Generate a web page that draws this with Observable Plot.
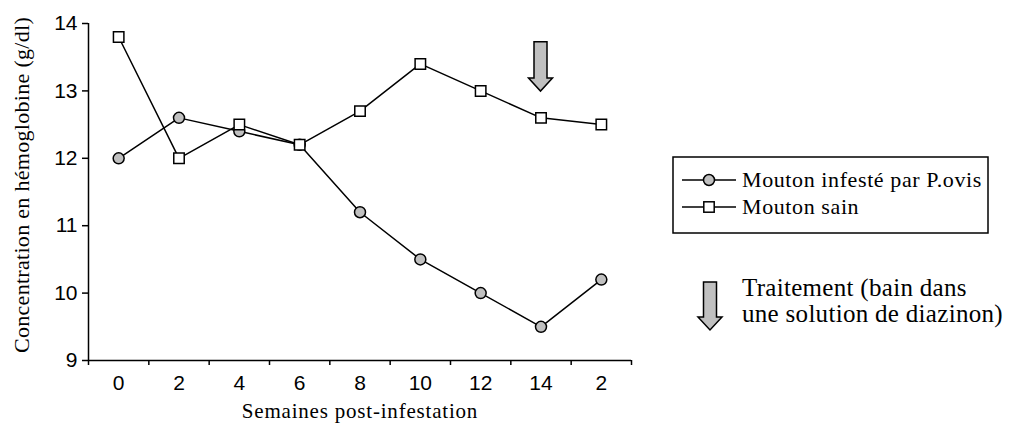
<!DOCTYPE html>
<html><head><meta charset="utf-8">
<script src="https://cdn.jsdelivr.net/npm/d3@7"></script>
<script src="https://cdn.jsdelivr.net/npm/@observablehq/plot@0.6"></script>
<style>
body{margin:0;background:#fff}
#chart{width:1015px;height:423px;position:relative}
.serif{font-family:"Liberation Serif","Times New Roman",serif;fill:#000}
</style>
</head><body><div id="chart"></div>
<script>
// ---- data ----
const weekLabels = ["0","2","4","6","8","10","12","14","2"];
const infested = [12.0,12.6,12.4,12.2,11.2,10.5,10.0,9.5,10.2];
const healthy  = [13.8,12.0,12.5,12.2,12.7,13.4,13.0,12.6,12.5];
const seriesNames = ["Mouton infesté par P.ovis","Mouton sain"];
const yTicks = [9,10,11,12,13,14];
const treatmentIndex = 7;
const treatmentRange = [13.72, 12.99];
const treatmentNote = ["Traitement (bain dans","une solution de diazinon)"];
const xTitle = "Semaines post-infestation";
const yTitle = "Concentration en hémoglobine (g/dl)";

const rows = [];
weekLabels.forEach((w,i)=>{
  rows.push({i, s: seriesNames[0], v: infested[i]});
  rows.push({i, s: seriesNames[1], v: healthy[i]});
});
const boundaries = d3.range(weekLabels.length + 1).map(k => k - 0.5);
const GREY = "#c0c0c0";

const plot = Plot.plot({
  width: 1015, height: 423,
  marginLeft: 88, marginRight: 384, marginTop: 23, marginBottom: 63,
  style: {fontFamily: "'Liberation Sans', Arial, sans-serif", fontSize: "21px", color: "#000", background: "#fff"},
  x: {domain: [-0.5, weekLabels.length - 0.5], axis: null},
  y: {domain: [9, 14], axis: null},
  marks: [
    Plot.ruleY([9], {stroke: "black", strokeWidth: 1.5}),
    Plot.ruleX([-0.5], {y1: 9, y2: 14, stroke: "black", strokeWidth: 1.5}),
    Plot.axisY(yTicks, {anchor: "left", tickSize: 6, tickPadding: 5, strokeWidth: 1.5, label: null, fontSize: 21, tickFormat: d => String(d)}),
    Plot.axisX(boundaries, {anchor: "bottom", tickSize: 5, strokeWidth: 1.5, tickFormat: () => "", label: null}),
    Plot.axisX(d3.range(weekLabels.length), {anchor: "bottom", tickSize: 0, tickPadding: 15, fontSize: 21, tickFormat: i => weekLabels[i], label: null}),
    Plot.line(rows, {x: "i", y: "v", z: "s", stroke: "black", strokeWidth: 1.5}),
    Plot.dot(rows.filter(d => d.s === seriesNames[0]), {x: "i", y: "v", r: 5.5, fill: GREY, stroke: "black", strokeWidth: 1.5}),
    Plot.dot(rows.filter(d => d.s === seriesNames[1]), {x: "i", y: "v", r: 5.9, symbol: "square", fill: "white", stroke: "black", strokeWidth: 1.5})
  ]
});
document.getElementById("chart").appendChild(plot);

const svg = d3.select(plot);
const xs = plot.scale("x"), ys = plot.scale("y");

function arrowPath(cx, yTop, yTip){
  const sw = 6.5, hw = 12, hh = 13;
  return `M${cx-sw},${yTop}H${cx+sw}V${yTip-hh}H${cx+hw}L${cx},${yTip}L${cx-hw},${yTip-hh}H${cx-sw}Z`;
}
// treatment arrow in the plot
svg.append("path")
  .attr("d", arrowPath(xs.apply(treatmentIndex), ys.apply(treatmentRange[0]), ys.apply(treatmentRange[1])))
  .attr("fill", GREY).attr("stroke", "black").attr("stroke-width", 1.5);

// axis titles
svg.append("text").attr("class", "serif")
  .attr("transform", "translate(29,185) rotate(-90)")
  .attr("text-anchor", "middle").style("font-size", "22px").style("letter-spacing", "0.3px")
  .text(yTitle);
svg.append("text").attr("class", "serif")
  .attr("x", 360).attr("y", 418)
  .attr("text-anchor", "middle").style("font-size", "21px").style("letter-spacing", "0.8px")
  .text(xTitle);

// legend
const lg = svg.append("g");
lg.append("rect").attr("x", 673).attr("y", 157).attr("width", 315).attr("height", 76)
  .attr("fill", "white").attr("stroke", "black").attr("stroke-width", 1.5);
[180, 207].forEach((y, k) => {
  lg.append("line").attr("x1", 682).attr("x2", 736).attr("y1", y).attr("y2", y)
    .attr("stroke", "black").attr("stroke-width", 1.5);
  if (k === 0) lg.append("circle").attr("cx", 709).attr("cy", y).attr("r", 5.5)
    .attr("fill", GREY).attr("stroke", "black").attr("stroke-width", 1.5);
  else lg.append("rect").attr("x", 709 - 5.2).attr("y", y - 5.2).attr("width", 10.4).attr("height", 10.4)
    .attr("fill", "white").attr("stroke", "black").attr("stroke-width", 1.5);
  lg.append("text").attr("class", "serif").attr("x", 742).attr("y", y + 7)
    .attr("text-anchor", "start")
    .style("font-size", "22px").style("letter-spacing", "0.6px").text(seriesNames[k]);
});

// treatment note
svg.append("path").attr("d", arrowPath(710, 282, 330))
  .attr("fill", GREY).attr("stroke", "black").attr("stroke-width", 1.5);
treatmentNote.forEach((t, k) => {
  svg.append("text").attr("class", "serif").attr("x", 742).attr("y", 296 + k * 26)
    .attr("text-anchor", "start")
    .style("font-size", "25px").style("letter-spacing", "0.3px").text(t);
});
</script>
</body></html>
